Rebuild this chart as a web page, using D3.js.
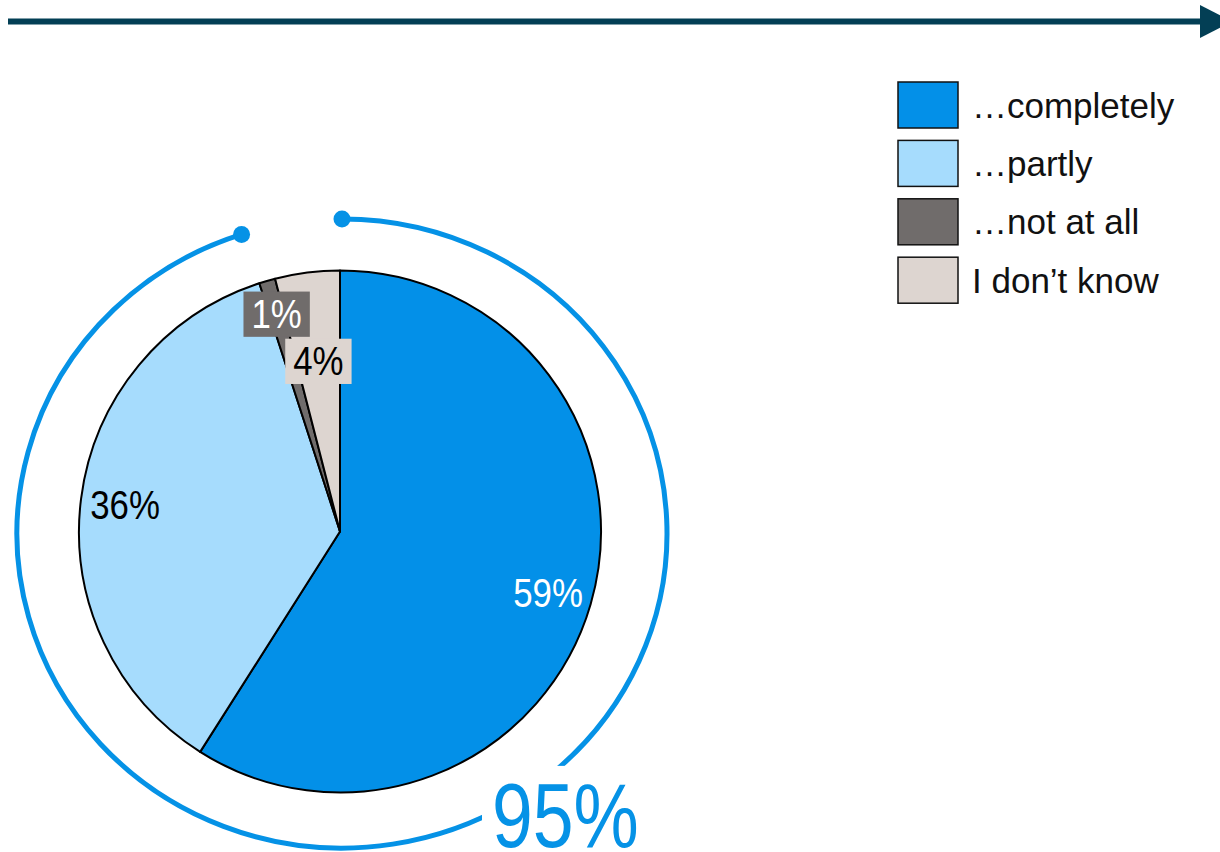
<!DOCTYPE html>
<html>
<head>
<meta charset="utf-8">
<script src="https://cdn.jsdelivr.net/npm/d3@7"></script>
<style>
  body { margin: 0; background: #fff; }
  svg { display: block; }
</style>
</head>
<body>
<svg id="chart" width="1220" height="852"></svg>
<script>
// data
const categories = ["…completely", "…partly", "…not at all", "I don’t know"];
const shares = [59, 36, 1, 4];
const colors = ["#0390e8", "#a6dcfd", "#706c6b", "#ddd5d0"];
const agreeIdx = [0, 1]; // completely + partly -> outer ring

// layout
const width = 1220, height = 852;
const pieCx = 340, pieCy = 531.5, pieR = 261;
const ringCx = 342, ringCy = 533.5, ringRx = 325, ringRy = 314.5;
const labelRadius = [0.83, 0.83, 0.87, 0.66];
const labelBoxed = [false, false, true, true];
const labelInk = ["#ffffff", "#000000", "#ffffff", "#000000"];
const blue = "#0592e6";
const navy = "#033f55";
const font = "'Liberation Sans', Arial, sans-serif";
const squeeze = 0.85;     // labels in the reference use a narrow face
const bigSqueeze = 0.815;

let svg = d3.select("#chart");

// Header arrow
svg.append("line")
    .attr("x1", 8).attr("x2", 1202)
    .attr("y1", 21.5).attr("y2", 21.5)
    .attr("stroke", navy)
    .attr("stroke-width", 6);
svg.append("path")
    .attr("d", "M1200,5 L1232,21.5 L1200,38 Z")
    .attr("fill", navy);

// Pie
let pie = d3.pie().sort(null).value(d => d);
let arcs = pie(shares);
let arc = d3.arc().innerRadius(0).outerRadius(pieR);

let g = svg.append("g").attr("transform", `translate(${pieCx},${pieCy})`);

g.selectAll(".slice")
    .data(arcs)
    .enter()
    .append("path")
    .attr("class", "slice")
    .attr("d", arc)
    .attr("fill", (d, i) => colors[i])
    .attr("stroke", "#000")
    .attr("stroke-width", 2)
    .attr("stroke-linejoin", "round");

// Slice labels
let labels = g.selectAll(".lbl")
    .data(arcs)
    .enter()
    .append("g")
    .attr("class", "lbl")
    .attr("transform", (d, i) => {
        let r = pieR * labelRadius[i];
        let c = d3.arc().innerRadius(r).outerRadius(r).centroid(d);
        return `translate(${c[0]},${c[1]})`;
    });

labels.append("text")
    .attr("text-anchor", "middle")
    .attr("dy", "0.36em")
    .attr("transform", `scale(${squeeze},1)`)
    .style("font-family", font)
    .style("font-size", "41px")
    .attr("fill", (d, i) => labelInk[i])
    .text(d => d.data + "%");

labels.each(function(d, i) {
    if (!labelBoxed[i]) return;
    let node = d3.select(this);
    let bb = node.select("text").node().getBBox();
    node.insert("rect", "text")
        .attr("x", bb.x * squeeze - 8)
        .attr("y", bb.y)
        .attr("width", bb.width * squeeze + 16)
        .attr("height", bb.height)
        .attr("fill", colors[i]);
});

// Outer ring showing the agreeing share
let agree = d3.sum(agreeIdx, i => shares[i]);
let total = d3.sum(shares);
let a0 = 0, a1 = 2 * Math.PI * agree / total;
let ringPt = a => [ringCx + ringRx * Math.sin(a), ringCy - ringRy * Math.cos(a)];
let p0 = ringPt(a0), p1 = ringPt(a1);

svg.append("path")
    .attr("d", `M${p0[0]},${p0[1]} A${ringRx},${ringRy} 0 ${a1 - a0 > Math.PI ? 1 : 0} 1 ${p1[0]},${p1[1]}`)
    .attr("fill", "none")
    .attr("stroke", blue)
    .attr("stroke-width", 5);

svg.selectAll(".ring-dot")
    .data([p0, p1])
    .enter()
    .append("circle")
    .attr("class", "ring-dot")
    .attr("cx", d => d[0])
    .attr("cy", d => d[1])
    .attr("r", 8.5)
    .attr("fill", blue);

// Big total label with white knock-out behind
let big = svg.append("g").attr("transform", "translate(492,847)");
let bigText = big.append("text")
    .attr("transform", `scale(${bigSqueeze},1)`)
    .style("font-family", font)
    .style("font-size", "90px")
    .attr("fill", blue)
    .text(agree + "%");
let bbb = bigText.node().getBBox();
big.insert("rect", "text")
    .attr("x", bbb.x * bigSqueeze - 10)
    .attr("y", bbb.y)
    .attr("width", bbb.width * bigSqueeze + 20)
    .attr("height", bbb.height + 20)
    .attr("fill", "#fff");

// Legend
let legend = svg.append("g").attr("transform", "translate(898,82)");
let items = legend.selectAll(".item")
    .data(categories)
    .enter()
    .append("g")
    .attr("class", "item")
    .attr("transform", (d, i) => `translate(0,${i * 58.4})`);

items.append("rect")
    .attr("width", 60)
    .attr("height", 46)
    .attr("fill", (d, i) => colors[i])
    .attr("stroke", "#111")
    .attr("stroke-width", 1.5);

items.append("text")
    .attr("x", 74)
    .attr("y", 23)
    .attr("dy", "0.36em")
    .style("font-family", font)
    .style("font-size", "35px")
    .attr("fill", "#111")
    .text(d => d);
</script>
</body>
</html>
